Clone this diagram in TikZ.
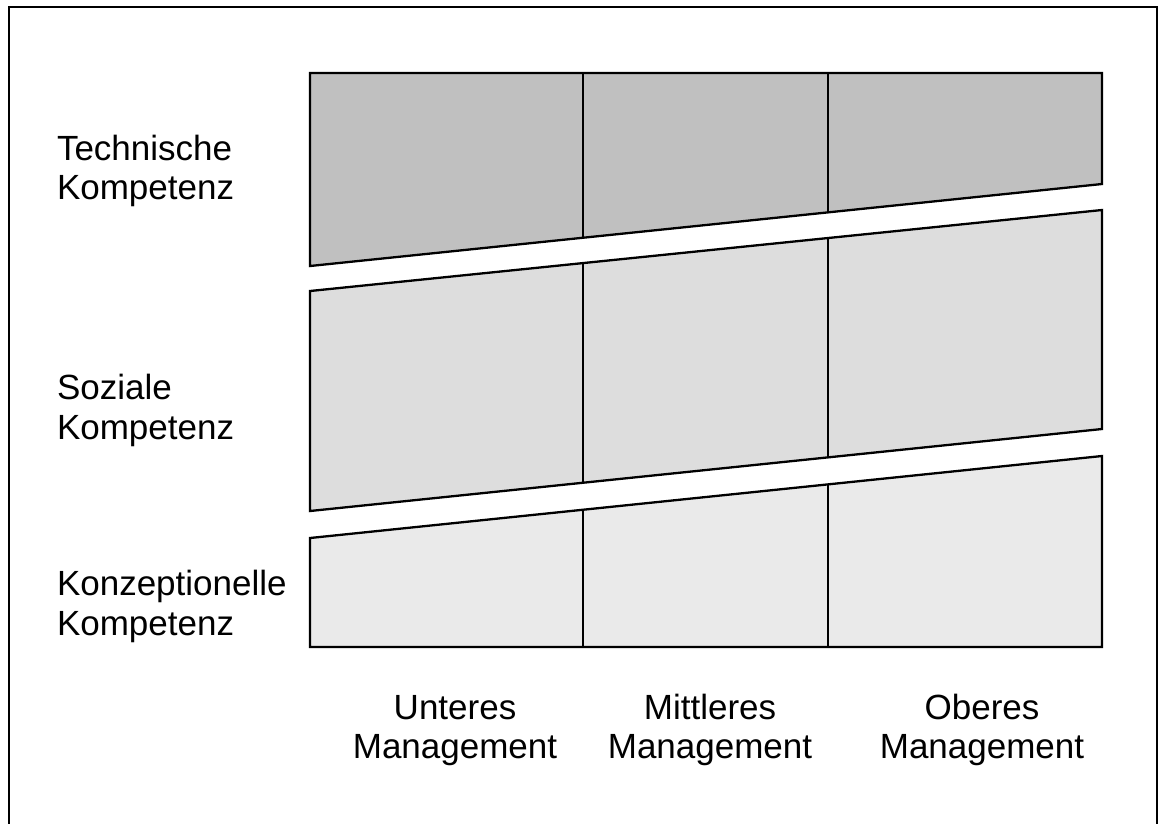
\documentclass[tikz,border=0pt]{standalone}
\usepackage{fontspec}
\setmainfont{Liberation Sans}
\usetikzlibrary{calc}
\definecolor{bandA}{HTML}{C0C0C0}
\definecolor{bandB}{HTML}{DDDDDD}
\definecolor{bandC}{HTML}{EAEAEA}
\tikzset{
  band/.style={draw=black, line width=2.3pt, line join=miter},
  divider/.style={draw=black, line width=1.7pt},
  frameline/.style={draw=black, line width=2pt},
  lbl/.style={inner sep=0pt, outer sep=0pt, font=\fontsize{35}{39}\selectfont},
}
\begin{document}
\begin{tikzpicture}[x=1pt, y=-1pt]
\useasboundingbox (0,0) rectangle (1158,823);
\fill[white] (0,0) rectangle (1158,823);
% frame
\coordinate (fbl) at (8.5,830);
\coordinate (ftl) at (8.5,6.5);
\coordinate (ftr) at (1157,6.5);
\coordinate (fbr) at (1157,830);
\draw[frameline] (fbl) -- (ftl) -- (ftr) -- (fbr);
% top band
\coordinate (a1) at (310,73);
\coordinate (a2) at (1102,73);
\coordinate (a3) at (1102,184);
\coordinate (a4) at (310,266);
\fill[bandA] (a1) -- (a2) -- (a3) -- (a4) -- cycle;
\draw[divider] ($(a1)!0.3447!(a2)$) -- ($(a4)!0.3447!(a3)$);
\draw[divider] ($(a1)!0.6540!(a2)$) -- ($(a4)!0.6540!(a3)$);
\draw[band] (a1) -- (a2) -- (a3) -- (a4) -- cycle;
% middle band
\coordinate (b1) at (310,291);
\coordinate (b2) at (1102,210);
\coordinate (b3) at (1102,429);
\coordinate (b4) at (310,511);
\fill[bandB] (b1) -- (b2) -- (b3) -- (b4) -- cycle;
\draw[divider] ($(b1)!0.3447!(b2)$) -- ($(b4)!0.3447!(b3)$);
\draw[divider] ($(b1)!0.6540!(b2)$) -- ($(b4)!0.6540!(b3)$);
\draw[band] (b1) -- (b2) -- (b3) -- (b4) -- cycle;
% bottom band
\coordinate (c1) at (310,538);
\coordinate (c2) at (1102,456);
\coordinate (c3) at (1102,647);
\coordinate (c4) at (310,647);
\fill[bandC] (c1) -- (c2) -- (c3) -- (c4) -- cycle;
\draw[divider] ($(c1)!0.3447!(c2)$) -- ($(c4)!0.3447!(c3)$);
\draw[divider] ($(c1)!0.6540!(c2)$) -- ($(c4)!0.6540!(c3)$);
\draw[band] (c1) -- (c2) -- (c3) -- (c4) -- cycle;
% left labels
\node[lbl, anchor=base west] (t1) at (57,160) {Technische};
\node[lbl, anchor=base west] (t2) at (57,199) {Kompetenz};
\node[lbl, anchor=base west] (s1) at (57,399) {Soziale};
\node[lbl, anchor=base west] (s2) at (57,439) {Kompetenz};
\node[lbl, anchor=base west] (k1) at (57,595) {Konzeptionelle};
\node[lbl, anchor=base west] (k2) at (57,635) {Kompetenz};
% bottom labels
\node[lbl, anchor=base] (u1) at (455,719) {Unteres};
\node[lbl, anchor=base] (u2) at (455,758) {Management};
\node[lbl, anchor=base] (m1) at (710,719) {Mittleres};
\node[lbl, anchor=base] (m2) at (710,758) {Management};
\node[lbl, anchor=base] (o1) at (982,719) {Oberes};
\node[lbl, anchor=base] (o2) at (982,758) {Management};
\end{tikzpicture}
\end{document}
